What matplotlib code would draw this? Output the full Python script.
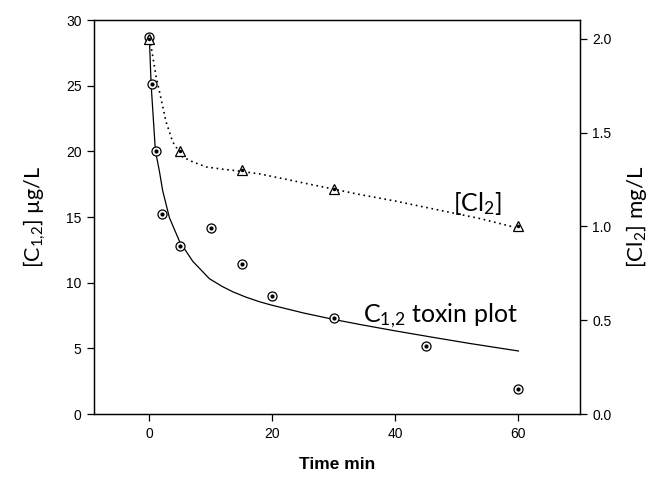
import numpy as np
import matplotlib
matplotlib.use("Agg")
import matplotlib.pyplot as plt

# measured data
time_tox = [0, 0.5, 1, 2, 5, 10, 15, 20, 30, 45, 60]
toxin = [28.7, 25.1, 20.0, 15.2, 12.8, 14.2, 11.4, 9.0, 7.3, 5.2, 1.9]

time_cl = [0, 5, 15, 30, 60]
chlorine = [2.0, 1.4, 1.3, 1.2, 1.0]

# fitted curves
fit_t = [0, 0.28, 0.98, 1.63, 2.17, 3.26, 4.89, 7.05, 9.77, 11.9, 13.6, 15.7,
         17.9, 19.8, 25, 30, 34.2, 40, 45.6, 52, 60]
fit_tox = [28.7, 25.15, 20.05, 18.5, 17.0, 14.95, 13.16, 11.63, 10.3, 9.7, 9.3, 8.9,
           8.55, 8.3, 7.7, 7.2, 6.82, 6.33, 5.88, 5.38, 4.8]

fitcl_t = [0, 0.28, 1.09, 1.9, 2.72, 3.8, 5.43, 7.05, 9.23, 11.9, 14.1, 17.9,
           21.2, 25, 29.9, 34.2, 40, 47.2, 54, 60]
fit_cl = [2.0, 1.96, 1.80, 1.68, 1.557, 1.45, 1.37, 1.344, 1.317, 1.305, 1.297, 1.28,
          1.258, 1.232, 1.199, 1.17, 1.135, 1.086, 1.04, 0.99]

tick_font = "Liberation Sans"
label_font = "Lato"

plt.rcParams["mathtext.fontset"] = "custom"
plt.rcParams["mathtext.rm"] = label_font
plt.rcParams["mathtext.it"] = label_font + ":italic"
plt.rcParams["mathtext.default"] = "rm"

fig = plt.figure(figsize=(6.68, 4.82), dpi=100)
ax = fig.add_axes([0.1407, 0.141, 0.7275, 0.8175])
ax2 = ax.twinx()

ax.plot(fit_t, fit_tox, color="black", lw=0.9)
ax.plot(time_tox, toxin, ls="none", marker="o", ms=6.5, mfc="white", mec="black", mew=0.9)
ax.plot(time_tox, toxin, ls="none", marker="o", ms=2, mfc="black", mec="black")

ax2.plot(fitcl_t, fit_cl, color="black", lw=1.2, ls=(0, (1, 2.2)))
ax2.plot(time_cl, chlorine, ls="none", marker="^", ms=7, mfc="white", mec="black", mew=0.9)
ax2.plot(time_cl, chlorine, ls="none", marker="o", ms=1.5, mfc="black", mec="black")

ax.set_xlim(-9, 70)
ax.set_ylim(0, 30)
ax2.set_ylim(0, 2.1)
ax.set_xticks([0, 20, 40, 60])
ax.set_yticks(np.arange(0, 31, 5))
ax2.set_yticks([0, 0.5, 1.0, 1.5, 2.0])
ax2.set_yticklabels(["0.0", "0.5", "1.0", "1.5", "2.0"])

for a in (ax, ax2):
    a.tick_params(direction="out", length=5, width=0.9, labelsize=10, pad=4)
    for lab in a.get_xticklabels() + a.get_yticklabels():
        lab.set_fontfamily(tick_font)
    for s in a.spines.values():
        s.set_linewidth(0.9)

ax.set_xlabel("Time min", fontsize=12.5, fontweight="bold", family=tick_font, labelpad=12)
ax.set_ylabel("[C$_{1{,}2}$] µg/L", fontsize=15.5, family=label_font, labelpad=13)
ax2.set_ylabel("[Cl$_2$] mg/L", fontsize=16, family=label_font, labelpad=9)

ax.text(34.7, 7.0, "C$_{1{,}2}$ toxin plot", fontsize=18, family=label_font,
        ha="left", va="baseline")
ax.text(49.3, 15.45, "[Cl$_2$]", fontsize=18, family=label_font,
        ha="left", va="baseline")

fig.savefig("out.png", dpi=100)
